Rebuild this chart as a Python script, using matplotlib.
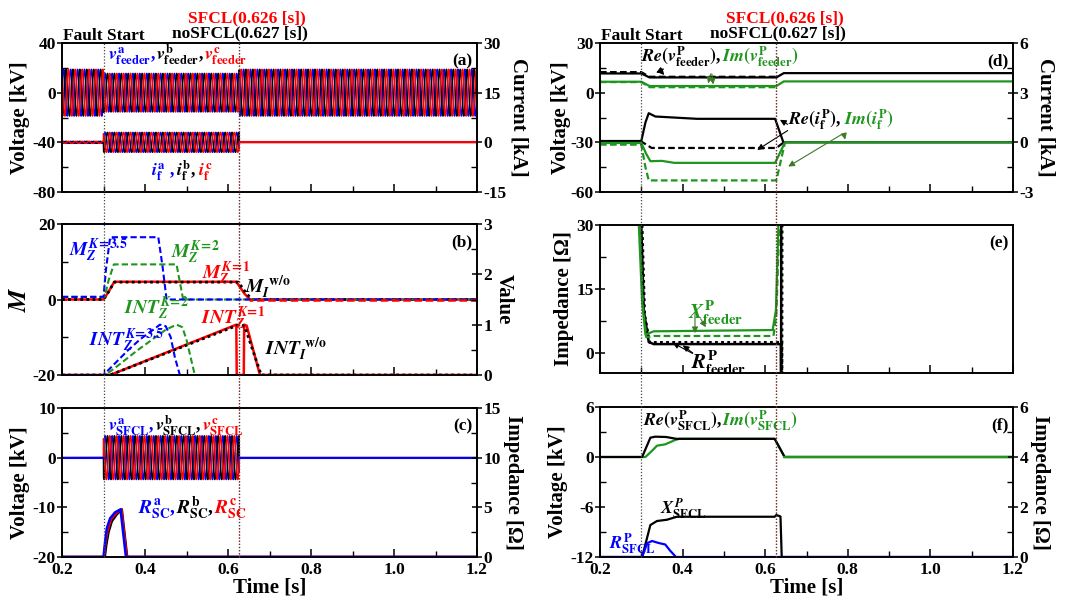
import numpy as np
import matplotlib.pyplot as plt
from matplotlib.ticker import MultipleLocator
from matplotlib.lines import Line2D

plt.rcParams['font.family'] = ['Liberation Serif', 'DejaVu Serif']
plt.rcParams['font.weight'] = 'bold'
plt.rcParams['mathtext.fontset'] = 'stix'
plt.rcParams['axes.linewidth'] = 1.2
plt.rcParams['axes.labelweight'] = 'bold'
plt.rcParams['axes.unicode_minus'] = False

BLUE, RED, GREEN, BLACK = '#0000ff', '#ff0000', '#1e961e', '#000000'
ARROW_G = '#3c7a28'

FAULT_T, SFCL_T, NOSFCL_T = 0.3, 0.626, 0.627
F_HZ = 60

# ---- (a) feeder voltage / fault current: amplitude per segment
seg_t = [0.2, 0.3, 0.627, 1.2]
v_feeder_amp = [18.8, 15.5, 18.8]     # kV
i_f_amp = [0.3, 3.0, 0.0]             # kA
# ---- (c) SFCL voltage amplitude per segment
v_sfcl_amp = [0.0, 4.4, 0.0]          # kV

# ---- (c) SFCL resistance per phase
rsc_t = [0.2, 0.300, 0.304, 0.308, 0.316, 0.328, 0.341, 0.354, 1.2]
rsc_a = [0, 0, 1.6, 2.9, 3.9, 4.5, 4.8, 0, 0]
rsc_b_t = [0.2, 0.303, 0.307, 0.312, 0.320, 0.332, 0.344, 0.357, 1.2]
rsc_b = [0, 0, 1.3, 2.5, 3.6, 4.3, 4.8, 0, 0]
rsc_c_t = [0.2, 0.301, 0.305, 0.310, 0.318, 0.330, 0.343, 0.356, 1.2]
rsc_c = [0, 0, 1.5, 2.7, 3.8, 4.4, 4.8, 0, 0]

# ---- (b) trip indices
mz35_t = [0.2, 0.300, 0.306, 0.316, 0.432, 0.442, 0.452, 1.2]
mz35 = [0.7, 0.7, 8.0, 16.5, 16.5, 9.0, 0, 0]
mz2_t = [0.2, 0.303, 0.312, 0.325, 0.476, 0.485, 0.492, 1.2]
mz2 = [0.7, 0.7, 5.0, 9.3, 9.3, 4.0, 0, 0]
mz1_t = [0.2, 0.300, 0.312, 0.326, 0.620, 0.640, 0.653, 1.2]
mz1 = [0, 0, 2.0, 4.7, 4.7, 1.5, 0, 0]
mi_t = [0.2, 0.300, 0.312, 0.326, 0.625, 0.645, 0.658, 1.2]
mi = [0, 0, 2.0, 4.6, 4.6, 1.5, 0, 0]

int35_t = [0.2, 0.300, 0.330, 0.360, 0.390, 0.420, 0.436, 0.450, 0.462, 0.472, 0.484]
int35 = [0, 0, 0.25, 0.50, 0.72, 0.90, 1.0, 0.97, 0.75, 0.35, 0]
int2_t = [0.2, 0.305, 0.340, 0.380, 0.420, 0.450, 0.476, 0.490, 0.500, 0.510, 0.520]
int2 = [0, 0, 0.22, 0.48, 0.72, 0.90, 1.0, 0.95, 0.70, 0.35, 0]
int1_t = [0.2, 0.316, 0.620, 0.621, 0.638, 0.639, 0.645, 0.677, 1.2]
int1 = [0, 0, 1.0, 0, 0, 1.0, 0.98, 0, 0]
inti_t = [0.2, 0.316, 0.627, 0.640, 0.680, 1.2]
inti = [0, 0, 1.0, 0.97, 0, 0]

# ---- (d) phasors
rev_t = [0.2, 0.300, 0.320, 0.627, 0.645, 1.2]
rev = [11.6, 11.6, 9.2, 9.2, 11.8, 11.8]
rev_ns_t = [0.2, 0.300, 0.320, 0.627]
rev_ns = [12.4, 12.4, 9.6, 9.6]
imv_t = [0.2, 0.300, 0.320, 0.627, 0.645, 1.2]
imv = [6.6, 6.6, 4.0, 4.0, 6.8, 6.8]
imv_ns_t = [0.2, 0.300, 0.320, 0.627]
imv_ns = [6.4, 6.4, 3.3, 3.3]

rei_t = [0.2, 0.300, 0.310, 0.318, 0.334, 0.435, 0.624, 0.644, 1.2]
rei = [0.08, 0.08, 1.2, 1.76, 1.56, 1.42, 1.42, 0, 0]
rei_ns_t = [0.2, 0.300, 0.325, 0.627, 0.645]
rei_ns = [0.05, 0.05, -0.34, -0.34, 0]
imi_t = [0.2, 0.300, 0.312, 0.322, 0.350, 0.380, 0.624, 0.648, 1.2]
imi = [-0.04, -0.04, -0.7, -1.14, -1.12, -1.24, -1.24, 0, 0]
imi_ns_t = [0.2, 0.300, 0.310, 0.318, 0.627, 0.648]
imi_ns = [-0.14, -0.14, -1.5, -2.3, -2.3, 0]

# ---- (e) feeder impedance
xf_t = [0.294, 0.302, 0.310, 0.330, 0.618, 0.626, 0.632]
xf = [30, 12, 4.2, 5.0, 5.3, 10, 30]
xf_ns_t = [0.296, 0.304, 0.312, 0.330, 0.620, 0.627, 0.634]
xf_ns = [30, 11, 3.6, 3.9, 3.9, 9, 30]
rf_t = [0.300, 0.306, 0.318, 0.330, 0.638, 0.6385, 0.639]
rf = [30, 10, 2.5, 2.0, 2.0, -10, 40]
rf_ns_t = [0.302, 0.308, 0.320, 0.640, 0.6405, 0.641]
rf_ns = [30, 9, 2.4, 2.4, -10, 40]

# ---- (f) SFCL phasors
resf_t = [0.2, 0.302, 0.322, 0.334, 0.360, 0.385, 0.623, 0.647, 1.2]
resf = [0, 0, 2.32, 2.44, 2.40, 2.18, 2.18, 0, 0]
imsf_t = [0.2, 0.310, 0.325, 0.338, 0.358, 0.382, 0.392, 0.623, 0.647, 1.2]
imsf = [0, 0, 0.7, 1.36, 1.52, 2.04, 2.18, 2.18, 0, 0]
xsf_t = [0.2, 0.302, 0.322, 0.338, 0.362, 0.386, 0.623, 0.627, 0.637, 0.640, 1.2]
xsf = [0, 0, 1.28, 1.44, 1.49, 1.61, 1.61, 1.68, 1.62, 0, 0]
rsf_t = [0.2, 0.302, 0.314, 0.326, 0.342, 0.358, 0.370, 0.384, 1.2]
rsf = [0, 0, 0.55, 0.64, 0.56, 0.50, 0.25, 0, 0]

W, H = 1071, 610
fig = plt.figure(figsize=(W / 100, H / 100), dpi=100)


def box(x0, y0, x1, y1):
    return [x0 / W, 1 - y1 / H, (x1 - x0) / W, (y1 - y0) / H]


def style(ax, lim, major, minor, labels=True):
    ax.set_ylim(*lim)
    ax.yaxis.set_major_locator(MultipleLocator(major))
    ax.yaxis.set_minor_locator(MultipleLocator(minor))
    ax.tick_params(axis='y', which='major', direction='inout', length=7, width=1.1,
                   labelsize=12.5, pad=1)
    ax.tick_params(axis='y', which='minor', direction='in', length=4, width=1)
    if not labels:
        ax.tick_params(axis='y', which='both', labelleft=False, labelright=False,
                       length=0)


def xstyle(ax, show):
    ax.set_xlim(0.2, 1.2)
    ax.xaxis.set_major_locator(MultipleLocator(0.2))
    ax.xaxis.set_minor_locator(MultipleLocator(0.1))
    ax.tick_params(axis='x', which='major', direction='in', length=6, width=1.1,
                   labelsize=12.5, labelbottom=show)
    ax.tick_params(axis='x', which='minor', direction='in', length=4, width=1)
    if show:
        ax.set_xlabel('Time [s]', fontsize=15, labelpad=0)


def chain(ax, x, y, parts, size=13, trans=None):
    t = ax.text(x, y, parts[0][0], color=parts[0][1], fontsize=size,
                transform=trans or ax.transData, va='bottom', zorder=10)
    for s, c in parts[1:]:
        t = ax.annotate(s, xy=(1, 0), xycoords=t, color=c, fontsize=size,
                        va='bottom', zorder=10)


def phase_wave(amps, t, shift):
    idx = np.searchsorted(seg_t[1:-1], t, side='right')
    return np.array(amps)[idx] * np.sin(2 * np.pi * F_HZ * t + shift)


t = np.linspace(0.2, 1.2, 8000)
shifts = [0, -2 * np.pi / 3, 2 * np.pi / 3]
colors3 = [BLUE, BLACK, RED]

left_x, right_x = (62, 477), (600, 1013)
MS = 13  # size of the curve labels

# ================= (a)
axa = fig.add_axes(box(left_x[0], 43, left_x[1], 192))
axa2 = axa.twinx()
for s, c in zip(shifts, colors3):
    axa.plot(t, phase_wave(v_feeder_amp, t, s), color=c, lw=1.1)
for s, c in zip(shifts, colors3):
    axa2.plot(t, phase_wave(i_f_amp, t, s), color=c, lw=1.1)
axa2.axhline(0, xmin=0.43, color=RED, lw=1.5)
style(axa, (-80, 40), 40, 20)
style(axa2, (-15, 30), 15, 7.5)
xstyle(axa, False)
axa.set_ylabel('Voltage [kV]', fontsize=15, labelpad=2)
axa2.set_ylabel('Current [kA]', fontsize=15, rotation=-90, labelpad=16)
chain(axa, 0.31, 21, [(r'$v^{\mathbf{a}}_{\mathbf{feeder}}$,', BLUE),
                      (r'$v^{\mathbf{b}}_{\mathbf{feeder}}$,', BLACK),
                      (r'$v^{\mathbf{c}}_{\mathbf{feeder}}$', RED)], size=MS)
chain(axa, 0.415, -73, [(r'$i^{\mathbf{a}}_{\mathbf{f}}$ ,', BLUE),
                        (r'$i^{\mathbf{b}}_{\mathbf{f}}$,', BLACK),
                        (r'$\,i^{\mathbf{c}}_{\mathbf{f}}$', RED)], size=MS)
axa.text(0.99, 0.93, '(a)', transform=axa.transAxes, ha='right', va='top', fontsize=12.5)

# ================= (b)
axb = fig.add_axes(box(left_x[0], 224, left_x[1], 375))
axb2 = axb.twinx()
axb.plot(mz1_t, mz1, color=RED, lw=1.8)
axb.plot(mi_t, mi, color=BLACK, lw=2, ls=(0, (1, 1.2)))
axb.plot(mz2_t, mz2, color=GREEN, lw=1.5, ls=(0, (3, 1.5)))
axb.plot(mz35_t, mz35, color=BLUE, lw=1.5, ls=(0, (3, 1.5)))
axb.plot([0.65, 1.2], [0, 0], color=RED, lw=1.8, ls=(1.5, (3, 1.5)))
axb2.plot(int1_t, int1, color=RED, lw=1.8)
axb2.plot(inti_t, inti, color=BLACK, lw=2, ls=(0, (1, 1.2)))
axb2.plot(int2_t, int2, color=GREEN, lw=1.5, ls=(0, (3, 1.5)))
axb2.plot(int35_t, int35, color=BLUE, lw=1.5, ls=(0, (3, 1.5)))
style(axb, (-20, 20), 20, 10)
style(axb2, (0, 3), 1, 0.5)
xstyle(axb, False)
axb.set_ylabel('$M$', fontsize=18, labelpad=1)
axb2.set_ylabel('Value', fontsize=15, rotation=-90, labelpad=16)
axb.text(0.218, 11.5, r'$M_Z^{K\!=\!3.5}$', color=BLUE, fontsize=MS + 1)
axb.text(0.462, 11.0, r'$M_Z^{K\!=\!2}$', color=GREEN, fontsize=MS + 1)
axb.text(0.538, 5.6, r'$M_Z^{K\!=\!1}$', color=RED, fontsize=MS + 1)
axb.text(0.640, 1.8, r'$M_I^{\ \mathrm{w/o}}$', color=BLACK, fontsize=MS + 1)
axb2.text(0.350, 1.22, r'$INT_Z^{K\!=\!2}$', color=GREEN, fontsize=MS + 1)
axb2.text(0.535, 1.02, r'$INT_Z^{K\!=\!1}$', color=RED, fontsize=MS + 1)
axb2.text(0.265, 0.58, r'$INT_Z^{K\!=\!3.5}$', color=BLUE, fontsize=MS + 1)
axb2.text(0.690, 0.40, r'$INT_I^{\ \mathrm{w/o}}$', color=BLACK, fontsize=MS + 1)
axb.text(0.99, 0.93, '(b)', transform=axb.transAxes, ha='right', va='top', fontsize=12.5)

# ================= (c)
axc = fig.add_axes(box(left_x[0], 408, left_x[1], 557))
axc2 = axc.twinx()
for s, c in zip(shifts, colors3):
    axc.plot(t, phase_wave(v_sfcl_amp, t, s), color=c, lw=1.1)
axc.axhline(0, xmin=0.425, color=BLUE, lw=1.5)
axc.plot([0.2, 0.3], [0, 0], color=BLUE, lw=1.5)
axc2.plot(rsc_b_t, rsc_b, color=BLACK, lw=1.8)
axc2.plot(rsc_c_t, rsc_c, color=RED, lw=1.8)
axc2.plot(rsc_t, rsc_a, color=BLUE, lw=1.8)
style(axc, (-20, 10), 10, 5)
style(axc2, (0, 15), 5, 2.5)
xstyle(axc, True)
axc.set_ylabel('Voltage [kV]', fontsize=15, labelpad=2)
axc2.set_ylabel('Impedance [\u03a9]', fontsize=15, rotation=-90, labelpad=16)
chain(axc, 0.312, 4.0, [(r'$v^{\mathbf{a}}_{\mathbf{SFCL}}$,', BLUE),
                        (r'$v^{\mathbf{b}}_{\mathbf{SFCL}}$,', BLACK),
                        (r'$v^{\mathbf{c}}_{\mathbf{SFCL}}$', RED)], size=MS)
chain(axc, 0.383, -13.0, [(r'$R^{\mathrm{a}}_{\mathrm{SC}}$,', BLUE),
                          (r'$R^{\mathrm{b}}_{\mathrm{SC}}$,', BLACK),
                          (r'$R^{\mathrm{c}}_{\mathrm{SC}}$', RED)], size=MS + 1)
axc.text(0.99, 0.93, '(c)', transform=axc.transAxes, ha='right', va='top', fontsize=12.5)

# ================= (d)
axd = fig.add_axes(box(right_x[0], 43, right_x[1], 192))
axd2 = axd.twinx()
axd.plot(rev_t, rev, color=BLACK, lw=1.6)
axd.plot(rev_ns_t, rev_ns, color=BLACK, lw=1.6, ls=(0, (3, 1.5)))
axd.plot(imv_t, imv, color=GREEN, lw=1.6)
axd.plot(imv_ns_t, imv_ns, color=GREEN, lw=1.6, ls=(0, (3, 1.5)))
axd2.plot(rei_t, rei, color=BLACK, lw=1.6)
axd2.plot(rei_ns_t, rei_ns, color=BLACK, lw=1.6, ls=(0, (3, 1.5)))
axd2.plot(imi_t, imi, color=GREEN, lw=1.6)
axd2.plot(imi_ns_t, imi_ns, color=GREEN, lw=1.6, ls=(0, (3, 1.5)))
style(axd, (-60, 30), 30, 15)
style(axd2, (-3, 6), 3, 1.5)
xstyle(axd, False)
axd.set_ylabel('Voltage [kV]', fontsize=15, labelpad=0)
axd2.set_ylabel('Current [kA]', fontsize=15, rotation=-90, labelpad=16)
chain(axd, 0.30, 14.0, [(r'$Re(v^{\mathrm{P}}_{\mathbf{feeder}})$,', BLACK),
                        (r'$Im(v^{\mathrm{P}}_{\mathbf{feeder}})$', GREEN)], size=MS)
kw = dict(arrowstyle='-|>', lw=0.8, mutation_scale=9)
axd.annotate('', xy=(0.33, 11.3), xytext=(0.36, 15), arrowprops=dict(color=BLACK, **kw))
axd.annotate('', xy=(0.36, 9.4), xytext=(0.34, 15), arrowprops=dict(color=BLACK, **kw))
axd.annotate('', xy=(0.46, 4.0), xytext=(0.47, 13), arrowprops=dict(color=ARROW_G, **kw))
axd.annotate('', xy=(0.475, 3.3), xytext=(0.47, 13), arrowprops=dict(color=ARROW_G, **kw))
chain(axd2, 0.655, 0.6, [(r'$Re(i^{\mathrm{P}}_{\mathbf{f}})$,', BLACK),
                         (r'$\,Im(i^{\mathrm{P}}_{\mathbf{f}})$', GREEN)], size=MS)
axd2.annotate('', xy=(0.63, 1.45), xytext=(0.66, 1.0), arrowprops=dict(color=BLACK, **kw))
axd2.annotate('', xy=(0.575, -0.55), xytext=(0.66, 0.8), arrowprops=dict(color=BLACK, **kw))
axd2.annotate('', xy=(0.795, 0.0), xytext=(0.79, 0.55), arrowprops=dict(color=ARROW_G, **kw))
axd2.annotate('', xy=(0.65, -1.55), xytext=(0.79, 0.55), arrowprops=dict(color=ARROW_G, **kw))
axd.text(0.99, 0.93, '(d)', transform=axd.transAxes, ha='right', va='top', fontsize=12.5)

# ================= (e)
axe = fig.add_axes(box(right_x[0], 225, right_x[1], 373))
axe2 = axe.twinx()
axe.plot(rf_t, rf, color=BLACK, lw=1.8)
axe.plot(rf_ns_t, rf_ns, color=BLACK, lw=2, ls=(0, (1, 1.2)))
axe.plot(xf_t, xf, color=GREEN, lw=1.6)
axe.plot(xf_ns_t, xf_ns, color=GREEN, lw=1.6, ls=(0, (3, 1.5)))
style(axe, (-4.8, 30), 15, 7.5)
style(axe2, (0, 1), 1, 1, labels=False)
xstyle(axe, False)
axe.set_ylabel('Impedance [\u03a9]', fontsize=15, labelpad=2)
axe.text(0.413, 8.0, r'$X^{\mathrm{P}}_{\mathrm{feeder}}$', color=GREEN, fontsize=MS + 2)
axe.text(0.42, -3.8, r'$R^{\mathrm{P}}_{\mathrm{feeder}}$', color=BLACK, fontsize=MS + 2)
axe.annotate('', xy=(0.43, 3.9), xytext=(0.43, 10), arrowprops=dict(color=ARROW_G, **kw))
axe.annotate('', xy=(0.46, 5.4), xytext=(0.44, 8.5), arrowprops=dict(color=ARROW_G, **kw))
axe.annotate('', xy=(0.37, 2.6), xytext=(0.43, -0.5), arrowprops=dict(color=BLACK, **kw))
axe.annotate('', xy=(0.395, 2.1), xytext=(0.43, -0.5), arrowprops=dict(color=BLACK, **kw))
axe.text(0.99, 0.93, '(e)', transform=axe.transAxes, ha='right', va='top', fontsize=12.5)

# ================= (f)
axf = fig.add_axes(box(right_x[0], 407, right_x[1], 557))
axf2 = axf.twinx()
axf.plot(imsf_t, imsf, color=GREEN, lw=1.6)
axf.plot(resf_t, resf, color=BLACK, lw=1.6)
axf.plot([0.645, 1.2], [0, 0], color=GREEN, lw=1.6)
axf2.plot(xsf_t, xsf, color=BLACK, lw=1.6)
axf2.plot(rsf_t, rsf, color=BLUE, lw=1.6)
style(axf, (-12, 6), 6, 3)
style(axf2, (0, 6), 2, 1)
xstyle(axf, True)
axf.set_ylabel('Voltage [kV]', fontsize=15, labelpad=2)
axf2.set_ylabel('Impedance [\u03a9]', fontsize=15, rotation=-90, labelpad=16)
chain(axf, 0.303, 2.9, [(r'$Re(v^{\mathrm{P}}_{\mathbf{SFCL}})$,', BLACK),
                        (r'$Im(v^{\mathrm{P}}_{\mathbf{SFCL}})$', GREEN)], size=MS)
axf2.text(0.345, 1.75, r'$X^{P}_{\mathbf{SFCL}}$', color=BLACK, fontsize=MS)
axf2.text(0.222, 0.30, r'$R^{\mathrm{P}}_{\mathbf{SFCL}}$', color=BLUE, fontsize=MS)
axf.text(0.99, 0.93, '(f)', transform=axf.transAxes, ha='right', va='top', fontsize=12.5)

# ---- event markers running through the stacked panels
for top, bottom in [(axa, axc), (axd, axf)]:
    y_top = top.get_position().y1
    y_bot = bottom.get_position().y0
    to_fig = top.transData + fig.transFigure.inverted()
    for xv, col in [(FAULT_T, '#444444'), (SFCL_T, RED), (NOSFCL_T, '#444444')]:
        fx = to_fig.transform((xv, 0))[0]
        fig.add_artist(Line2D([fx, fx], [y_bot, y_top], color=col, lw=0.9,
                              ls=(0, (1, 1.5)), zorder=5))

for x0 in (62, 600):
    fig.text((x0 + 42) / W, 1 - 36 / H, 'Fault Start', ha='center', va='center', fontsize=12.5)
    fig.text((x0 + 185) / W, 1 - 18 / H, 'SFCL(0.626 [s])', color=RED, ha='center',
             va='center', fontsize=12.5)
    fig.text((x0 + 178) / W, 1 - 33 / H, 'noSFCL(0.627 [s])', ha='center', va='center',
             fontsize=12.5)

fig.savefig('out.png', dpi=100)
